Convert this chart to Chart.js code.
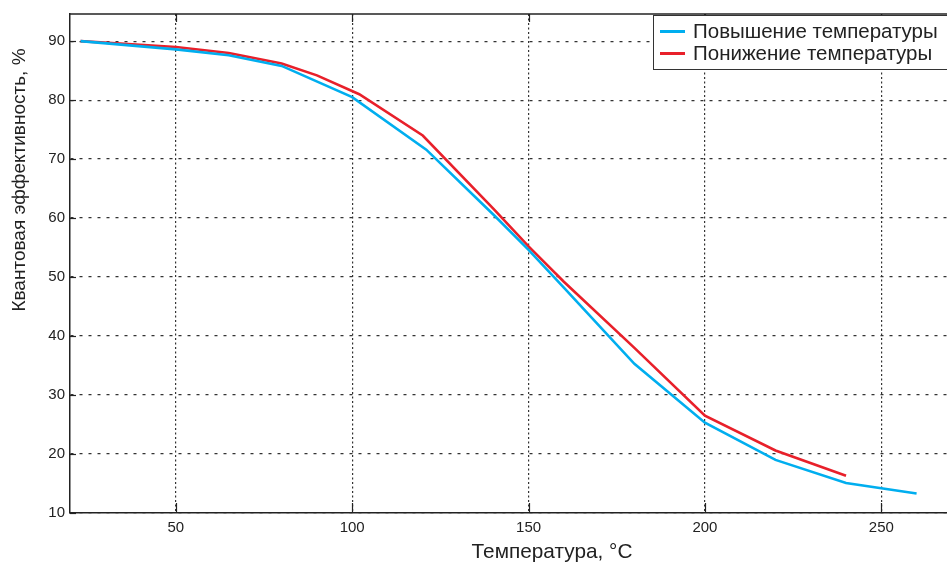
<!DOCTYPE html>
<html lang="ru">
<head>
<meta charset="UTF-8">
<title>Квантовая эффективность</title>
<script src="https://cdn.jsdelivr.net/npm/chart.js"></script>
<style>
  html, body { margin: 0; padding: 0; background: #fff; overflow: hidden; }
  #wrap { width: 1040px; height: 565px; }
</style>
</head>
<body>
<div id="wrap"><canvas id="chart" width="1040" height="565"></canvas></div>
<script>
// heating curve
const tempUp = [23, 50, 65, 80, 100, 121, 140, 150, 160, 180, 200, 220, 240, 260];
const effUp = [90, 88.6, 87.6, 85.8, 80.5, 71.6, 60.6, 54.6, 48.2, 35.3, 25.3, 19.0, 15.1, 13.3];
// cooling curve
const tempDown = [23, 50, 65, 80, 90, 102, 120, 140, 150, 160, 180, 200, 220, 240];
const effDown = [90, 89.0, 88.0, 86.2, 84.2, 81.0, 74.0, 61.6, 55.2, 49.2, 38.0, 26.5, 20.6, 16.3];

const xTicks = [50, 100, 150, 200, 250];
const yTicks = [10, 20, 30, 40, 50, 60, 70, 80, 90];
const seriesNames = ['Повышение температуры', 'Понижение температуры'];
const seriesColors = ['#00aeef', '#e8202a'];
const xTitle = 'Температура, °C';
const yTitle = 'Квантовая эффективность, %';

const FONT = '"Liberation Sans", Arial, sans-serif';
const INK = '#222';

const toPoints = (xs, ys) => xs.map((x, i) => ({ x: x, y: ys[i] }));

// frame, inward ticks, axis titles and the boxed legend
const framePlugin = {
  id: 'frame',
  afterDraw(chart) {
    const { ctx, chartArea: a, scales } = chart;
    ctx.save();
    ctx.strokeStyle = INK;
    ctx.lineWidth = 1.5;
    ctx.setLineDash([]);
    ctx.beginPath();
    ctx.moveTo(a.left, a.top);
    ctx.lineTo(a.right, a.top);
    ctx.stroke();
    ctx.lineWidth = 1.2;
    xTicks.forEach(v => {
      const px = Math.round(scales.x.getPixelForValue(v)) + 0.5;
      ctx.beginPath();
      ctx.moveTo(px, a.bottom); ctx.lineTo(px, a.bottom - 10);
      ctx.moveTo(px, a.top); ctx.lineTo(px, a.top + 8);
      ctx.stroke();
    });
    yTicks.forEach(v => {
      const py = Math.round(scales.y.getPixelForValue(v)) + 0.5;
      ctx.beginPath();
      ctx.moveTo(a.left, py); ctx.lineTo(a.left + 6, py);
      ctx.stroke();
    });

    // axis titles (placed as in the original figure, not centred on the plot)
    ctx.fillStyle = INK;
    ctx.textAlign = 'center';
    ctx.textBaseline = 'middle';
    ctx.font = '20.8px ' + FONT;
    ctx.fillText(xTitle, 552, 552);
    ctx.save();
    ctx.translate(20, 180);
    ctx.rotate(-Math.PI / 2);
    ctx.font = '19px ' + FONT;
    ctx.fillText(yTitle, 0, 0);
    ctx.restore();

    // legend
    const bx = 653, by = 15, bh = 54;
    ctx.fillStyle = '#fff';
    ctx.fillRect(bx, by, 400, bh);
    ctx.strokeStyle = '#333';
    ctx.lineWidth = 1;
    ctx.strokeRect(bx + 0.5, by + 0.5, 400, bh);
    ctx.font = '20.5px ' + FONT;
    ctx.textAlign = 'left';
    seriesNames.forEach((name, i) => {
      const cy = 31.5 + i * 22;
      ctx.strokeStyle = seriesColors[i];
      ctx.lineWidth = 3;
      ctx.beginPath();
      ctx.moveTo(660, cy); ctx.lineTo(685, cy);
      ctx.stroke();
      ctx.fillStyle = INK;
      ctx.fillText(name, 693, cy + 1);
    });
    ctx.restore();
  }
};

new Chart(document.getElementById('chart'), {
  type: 'line',
  data: {
    datasets: [
      {
        label: seriesNames[0],
        data: toPoints(tempUp, effUp),
        borderColor: seriesColors[0],
        borderWidth: 2.6,
        pointRadius: 0,
        tension: 0
      },
      {
        label: seriesNames[1],
        data: toPoints(tempDown, effDown),
        borderColor: seriesColors[1],
        borderWidth: 2.6,
        pointRadius: 0,
        tension: 0
      }
    ]
  },
  options: {
    responsive: false,
    animation: false,
    layout: { padding: { top: 13, right: 7, left: 0, bottom: 0 } },
    plugins: { legend: { display: false }, tooltip: { enabled: false } },
    scales: {
      x: {
        type: 'linear',
        min: 20,
        max: 293,
        afterBuildTicks: axis => { axis.ticks = xTicks.map(v => ({ value: v })); },
        afterFit: axis => { axis.height = 52; },
        grid: { color: '#333', lineWidth: 1.2, drawTicks: false },
        border: { display: true, color: INK, width: 1.5, dash: [2, 2.5] },
        ticks: { color: INK, padding: 6, font: { family: FONT, size: 15 } }
      },
      y: {
        min: 10,
        max: 94.6,
        afterBuildTicks: axis => { axis.ticks = yTicks.map(v => ({ value: v })); },
        afterFit: axis => { axis.width = 70; },
        grid: { color: '#333', lineWidth: 1.2, drawTicks: false },
        border: { display: true, color: INK, width: 1.5, dash: [3, 6] },
        ticks: { color: INK, padding: 5, font: { family: FONT, size: 15 } }
      }
    }
  },
  plugins: [framePlugin]
});
</script>
</body>
</html>
